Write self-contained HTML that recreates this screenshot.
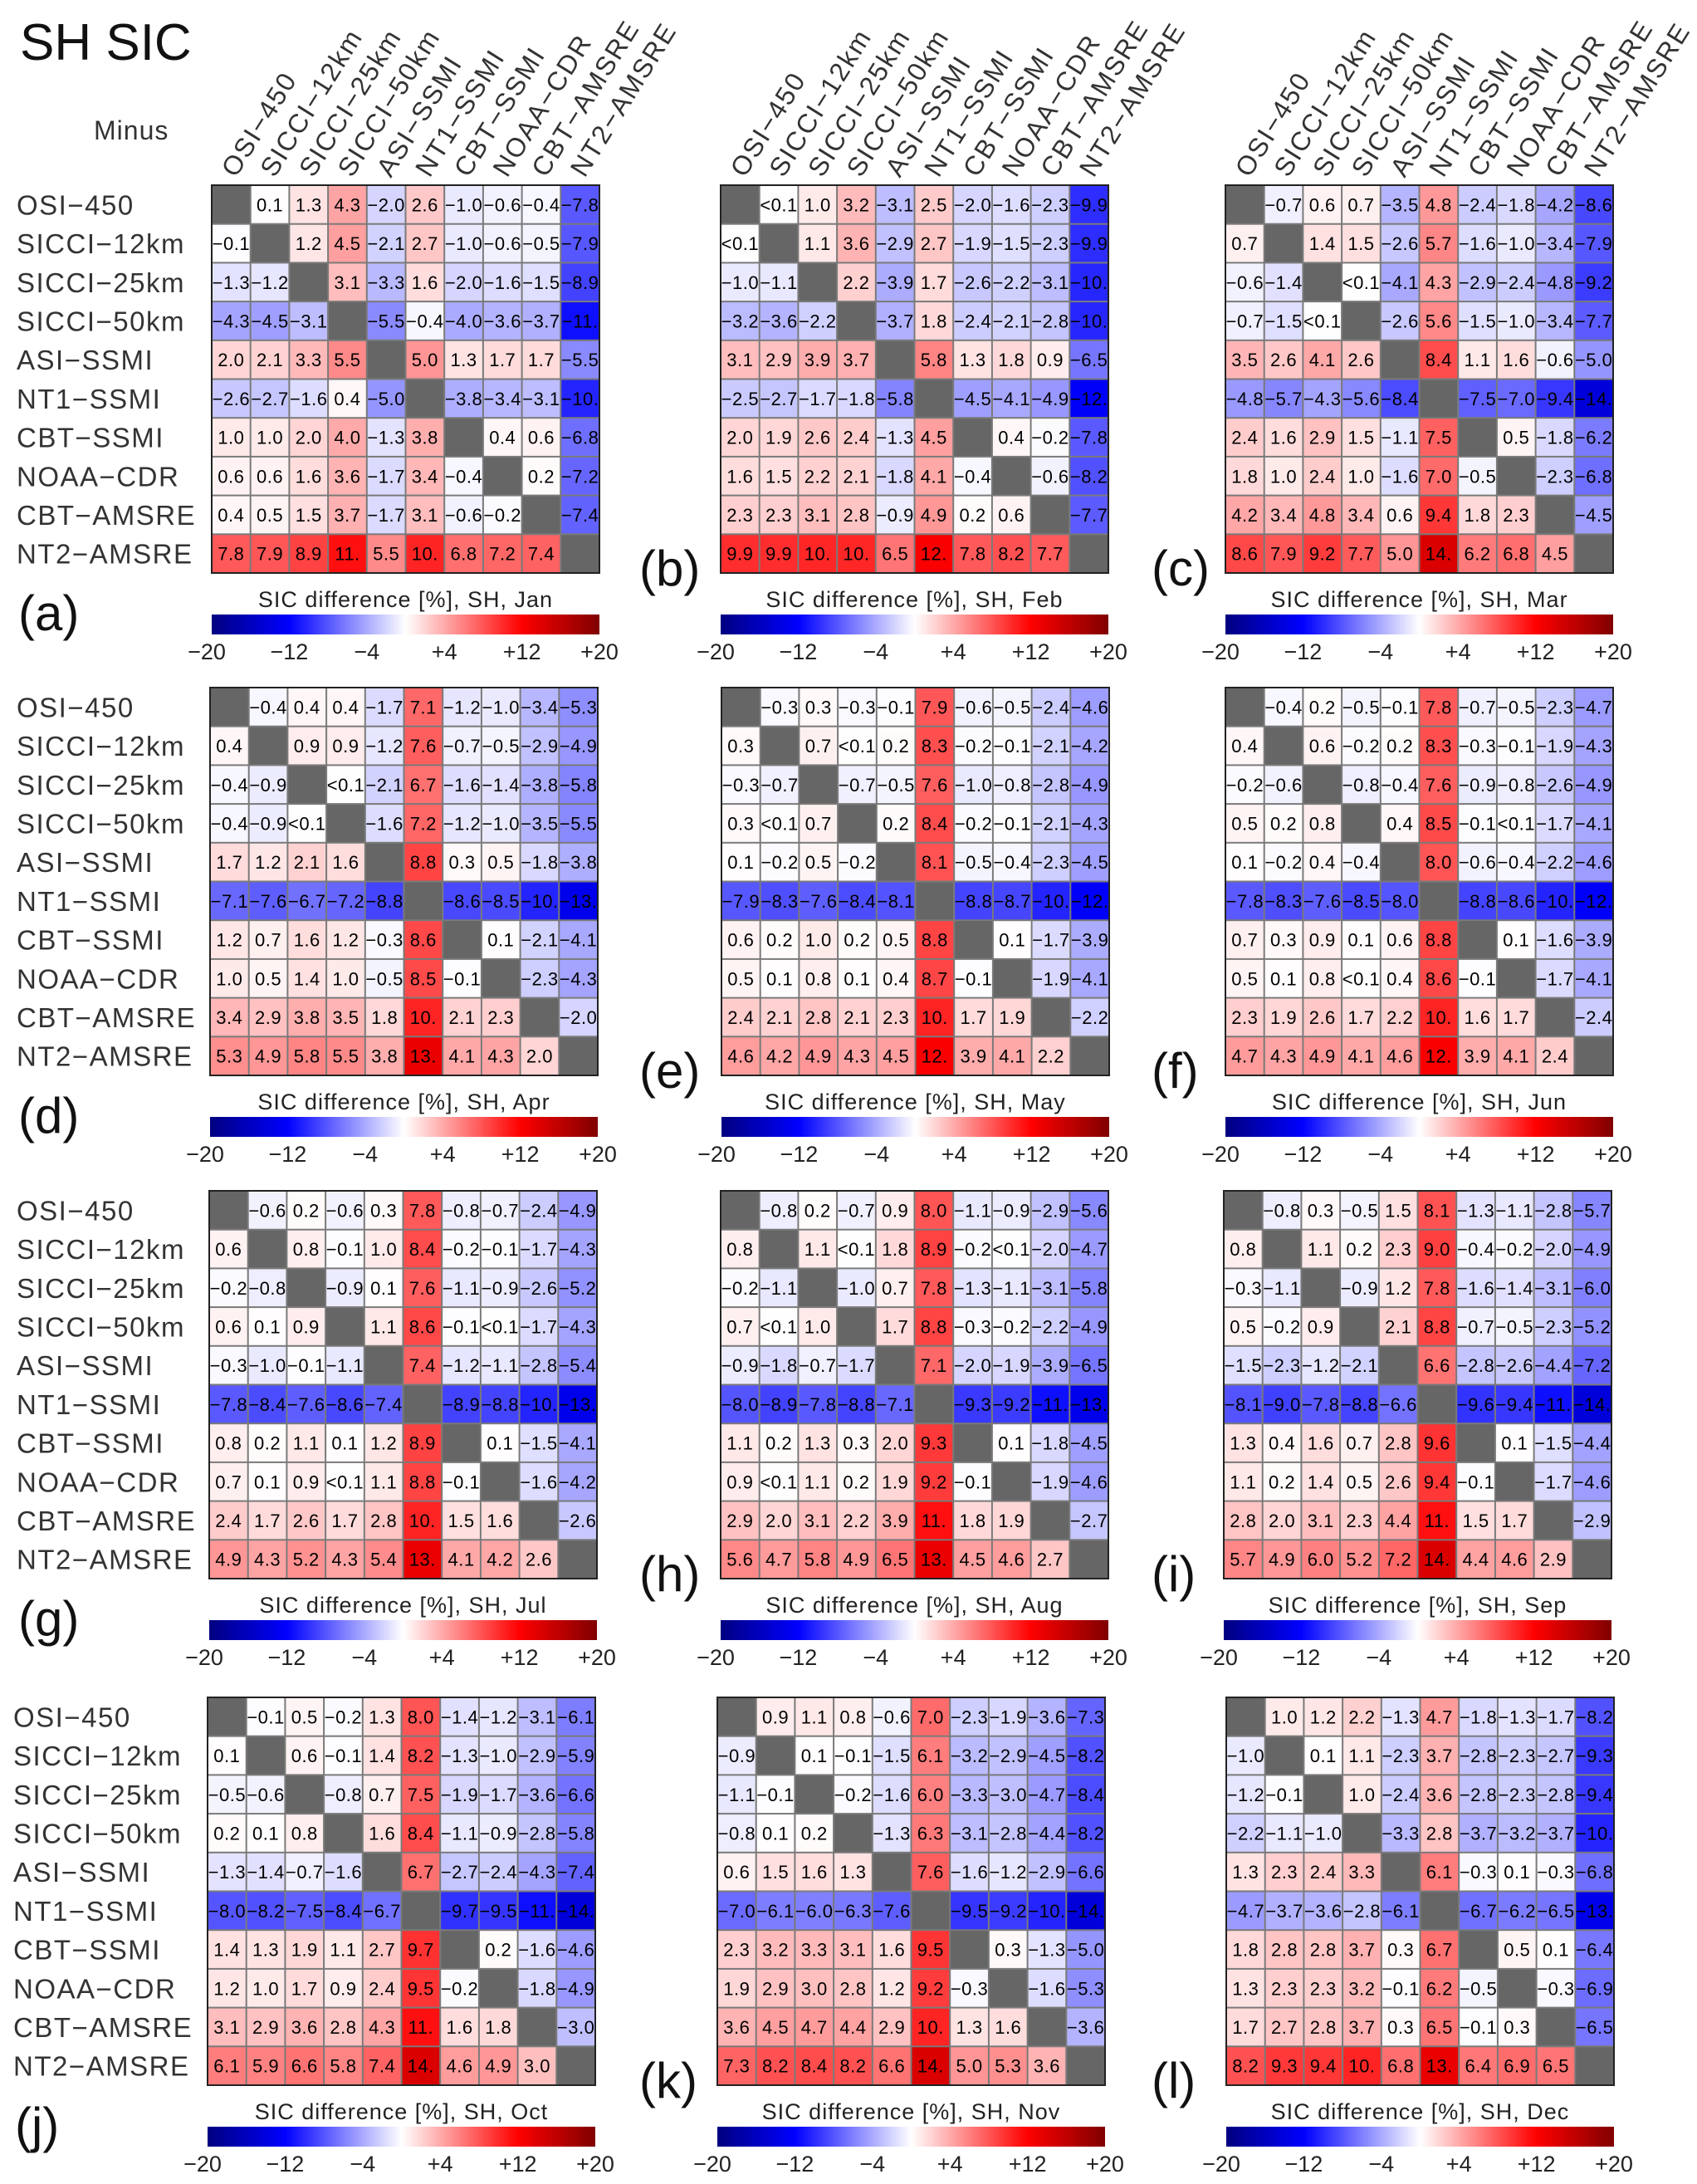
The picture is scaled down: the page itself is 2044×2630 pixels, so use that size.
<!DOCTYPE html>
<html><head><meta charset="utf-8"><style>
html,body{margin:0;padding:0;background:#fff;}
svg{display:block;}
text{font-family:"Liberation Sans",sans-serif;}
</style></head><body>
<svg id="fig" xmlns="http://www.w3.org/2000/svg" width="2044" height="2630" viewBox="0 0 2044 2630">
<rect x="0" y="0" width="2044" height="2630" fill="#fff"/>
<text x="24" y="72" font-size="62" fill="#111">SH SIC</text>
<text x="113" y="168" font-size="32" fill="#333" letter-spacing="1">Minus</text>
</svg>
<script>
const products = ["OSI−450","SICCI−12km","SICCI−25km","SICCI−50km","ASI−SSMI","NT1−SSMI","CBT−SSMI","NOAA−CDR","CBT−AMSRE","NT2−AMSRE"];
const months = ["Jan","Feb","Mar","Apr","May","Jun","Jul","Aug","Sep","Oct","Nov","Dec"];
const panelLetters = ["(a)","(b)","(c)","(d)","(e)","(f)","(g)","(h)","(i)","(j)","(k)","(l)"];
const cbTicks = [-20,-12,-4,4,12,20];
const cbTickLabels = ["−20","−12","−4","+4","+12","+20"];
const D = null;
const jan = [
[D,0.1,1.3,4.3,-2.0,2.6,-1.0,-0.6,-0.4,-7.8],
[-0.1,D,1.2,4.5,-2.1,2.7,-1.0,-0.6,-0.5,-7.9],
[-1.3,-1.2,D,3.1,-3.3,1.6,-2.0,-1.6,-1.5,-8.9],
[-4.3,-4.5,-3.1,D,-5.5,-0.4,-4.0,-3.6,-3.7,-11.3],
[2.0,2.1,3.3,5.5,D,5.0,1.3,1.7,1.7,-5.5],
[-2.6,-2.7,-1.6,0.4,-5.0,D,-3.8,-3.4,-3.1,-10.3],
[1.0,1.0,2.0,4.0,-1.3,3.8,D,0.4,0.6,-6.8],
[0.6,0.6,1.6,3.6,-1.7,3.4,-0.4,D,0.2,-7.2],
[0.4,0.5,1.5,3.7,-1.7,3.1,-0.6,-0.2,D,-7.4],
[7.8,7.9,8.9,11.3,5.5,10.3,6.8,7.2,7.4,D]];
const feb = [
[D,0.04,1.0,3.2,-3.1,2.5,-2.0,-1.6,-2.3,-9.9],
[0.04,D,1.1,3.6,-2.9,2.7,-1.9,-1.5,-2.3,-9.9],
[-1.0,-1.1,D,2.2,-3.9,1.7,-2.6,-2.2,-3.1,-10.2],
[-3.2,-3.6,-2.2,D,-3.7,1.8,-2.4,-2.1,-2.8,-10.2],
[3.1,2.9,3.9,3.7,D,5.8,1.3,1.8,0.9,-6.5],
[-2.5,-2.7,-1.7,-1.8,-5.8,D,-4.5,-4.1,-4.9,-12.3],
[2.0,1.9,2.6,2.4,-1.3,4.5,D,0.4,-0.2,-7.8],
[1.6,1.5,2.2,2.1,-1.8,4.1,-0.4,D,-0.6,-8.2],
[2.3,2.3,3.1,2.8,-0.9,4.9,0.2,0.6,D,-7.7],
[9.9,9.9,10.2,10.2,6.5,12.3,7.8,8.2,7.7,D]];
const mar = [
[D,-0.7,0.6,0.7,-3.5,4.8,-2.4,-1.8,-4.2,-8.6],
[0.7,D,1.4,1.5,-2.6,5.7,-1.6,-1.0,-3.4,-7.9],
[-0.6,-1.4,D,0.04,-4.1,4.3,-2.9,-2.4,-4.8,-9.2],
[-0.7,-1.5,0.04,D,-2.6,5.6,-1.5,-1.0,-3.4,-7.7],
[3.5,2.6,4.1,2.6,D,8.4,1.1,1.6,-0.6,-5.0],
[-4.8,-5.7,-4.3,-5.6,-8.4,D,-7.5,-7.0,-9.4,-14.3],
[2.4,1.6,2.9,1.5,-1.1,7.5,D,0.5,-1.8,-6.2],
[1.8,1.0,2.4,1.0,-1.6,7.0,-0.5,D,-2.3,-6.8],
[4.2,3.4,4.8,3.4,0.6,9.4,1.8,2.3,D,-4.5],
[8.6,7.9,9.2,7.7,5.0,14.3,6.2,6.8,4.5,D]];
const apr = [
[D,-0.4,0.4,0.4,-1.7,7.1,-1.2,-1.0,-3.4,-5.3],
[0.4,D,0.9,0.9,-1.2,7.6,-0.7,-0.5,-2.9,-4.9],
[-0.4,-0.9,D,0.04,-2.1,6.7,-1.6,-1.4,-3.8,-5.8],
[-0.4,-0.9,0.04,D,-1.6,7.2,-1.2,-1.0,-3.5,-5.5],
[1.7,1.2,2.1,1.6,D,8.8,0.3,0.5,-1.8,-3.8],
[-7.1,-7.6,-6.7,-7.2,-8.8,D,-8.6,-8.5,-10.3,-13.3],
[1.2,0.7,1.6,1.2,-0.3,8.6,D,0.1,-2.1,-4.1],
[1.0,0.5,1.4,1.0,-0.5,8.5,-0.1,D,-2.3,-4.3],
[3.4,2.9,3.8,3.5,1.8,10.3,2.1,2.3,D,-2.0],
[5.3,4.9,5.8,5.5,3.8,13.3,4.1,4.3,2.0,D]];
const may = [
[D,-0.3,0.3,-0.3,-0.1,7.9,-0.6,-0.5,-2.4,-4.6],
[0.3,D,0.7,0.04,0.2,8.3,-0.2,-0.1,-2.1,-4.2],
[-0.3,-0.7,D,-0.7,-0.5,7.6,-1.0,-0.8,-2.8,-4.9],
[0.3,0.04,0.7,D,0.2,8.4,-0.2,-0.1,-2.1,-4.3],
[0.1,-0.2,0.5,-0.2,D,8.1,-0.5,-0.4,-2.3,-4.5],
[-7.9,-8.3,-7.6,-8.4,-8.1,D,-8.8,-8.7,-10.3,-12.3],
[0.6,0.2,1.0,0.2,0.5,8.8,D,0.1,-1.7,-3.9],
[0.5,0.1,0.8,0.1,0.4,8.7,-0.1,D,-1.9,-4.1],
[2.4,2.1,2.8,2.1,2.3,10.3,1.7,1.9,D,-2.2],
[4.6,4.2,4.9,4.3,4.5,12.3,3.9,4.1,2.2,D]];
const jun = [
[D,-0.4,0.2,-0.5,-0.1,7.8,-0.7,-0.5,-2.3,-4.7],
[0.4,D,0.6,-0.2,0.2,8.3,-0.3,-0.1,-1.9,-4.3],
[-0.2,-0.6,D,-0.8,-0.4,7.6,-0.9,-0.8,-2.6,-4.9],
[0.5,0.2,0.8,D,0.4,8.5,-0.1,0.04,-1.7,-4.1],
[0.1,-0.2,0.4,-0.4,D,8.0,-0.6,-0.4,-2.2,-4.6],
[-7.8,-8.3,-7.6,-8.5,-8.0,D,-8.8,-8.6,-10.3,-12.3],
[0.7,0.3,0.9,0.1,0.6,8.8,D,0.1,-1.6,-3.9],
[0.5,0.1,0.8,0.04,0.4,8.6,-0.1,D,-1.7,-4.1],
[2.3,1.9,2.6,1.7,2.2,10.3,1.6,1.7,D,-2.4],
[4.7,4.3,4.9,4.1,4.6,12.3,3.9,4.1,2.4,D]];
const jul = [
[D,-0.6,0.2,-0.6,0.3,7.8,-0.8,-0.7,-2.4,-4.9],
[0.6,D,0.8,-0.1,1.0,8.4,-0.2,-0.1,-1.7,-4.3],
[-0.2,-0.8,D,-0.9,0.1,7.6,-1.1,-0.9,-2.6,-5.2],
[0.6,0.1,0.9,D,1.1,8.6,-0.1,0.04,-1.7,-4.3],
[-0.3,-1.0,-0.1,-1.1,D,7.4,-1.2,-1.1,-2.8,-5.4],
[-7.8,-8.4,-7.6,-8.6,-7.4,D,-8.9,-8.8,-10.3,-13.3],
[0.8,0.2,1.1,0.1,1.2,8.9,D,0.1,-1.5,-4.1],
[0.7,0.1,0.9,0.04,1.1,8.8,-0.1,D,-1.6,-4.2],
[2.4,1.7,2.6,1.7,2.8,10.3,1.5,1.6,D,-2.6],
[4.9,4.3,5.2,4.3,5.4,13.3,4.1,4.2,2.6,D]];
const aug = [
[D,-0.8,0.2,-0.7,0.9,8.0,-1.1,-0.9,-2.9,-5.6],
[0.8,D,1.1,0.04,1.8,8.9,-0.2,0.04,-2.0,-4.7],
[-0.2,-1.1,D,-1.0,0.7,7.8,-1.3,-1.1,-3.1,-5.8],
[0.7,0.04,1.0,D,1.7,8.8,-0.3,-0.2,-2.2,-4.9],
[-0.9,-1.8,-0.7,-1.7,D,7.1,-2.0,-1.9,-3.9,-6.5],
[-8.0,-8.9,-7.8,-8.8,-7.1,D,-9.3,-9.2,-11.3,-13.3],
[1.1,0.2,1.3,0.3,2.0,9.3,D,0.1,-1.8,-4.5],
[0.9,0.04,1.1,0.2,1.9,9.2,-0.1,D,-1.9,-4.6],
[2.9,2.0,3.1,2.2,3.9,11.3,1.8,1.9,D,-2.7],
[5.6,4.7,5.8,4.9,6.5,13.3,4.5,4.6,2.7,D]];
const sep = [
[D,-0.8,0.3,-0.5,1.5,8.1,-1.3,-1.1,-2.8,-5.7],
[0.8,D,1.1,0.2,2.3,9.0,-0.4,-0.2,-2.0,-4.9],
[-0.3,-1.1,D,-0.9,1.2,7.8,-1.6,-1.4,-3.1,-6.0],
[0.5,-0.2,0.9,D,2.1,8.8,-0.7,-0.5,-2.3,-5.2],
[-1.5,-2.3,-1.2,-2.1,D,6.6,-2.8,-2.6,-4.4,-7.2],
[-8.1,-9.0,-7.8,-8.8,-6.6,D,-9.6,-9.4,-11.3,-14.3],
[1.3,0.4,1.6,0.7,2.8,9.6,D,0.1,-1.5,-4.4],
[1.1,0.2,1.4,0.5,2.6,9.4,-0.1,D,-1.7,-4.6],
[2.8,2.0,3.1,2.3,4.4,11.3,1.5,1.7,D,-2.9],
[5.7,4.9,6.0,5.2,7.2,14.3,4.4,4.6,2.9,D]];
const oct = [
[D,-0.1,0.5,-0.2,1.3,8.0,-1.4,-1.2,-3.1,-6.1],
[0.1,D,0.6,-0.1,1.4,8.2,-1.3,-1.0,-2.9,-5.9],
[-0.5,-0.6,D,-0.8,0.7,7.5,-1.9,-1.7,-3.6,-6.6],
[0.2,0.1,0.8,D,1.6,8.4,-1.1,-0.9,-2.8,-5.8],
[-1.3,-1.4,-0.7,-1.6,D,6.7,-2.7,-2.4,-4.3,-7.4],
[-8.0,-8.2,-7.5,-8.4,-6.7,D,-9.7,-9.5,-11.3,-14.3],
[1.4,1.3,1.9,1.1,2.7,9.7,D,0.2,-1.6,-4.6],
[1.2,1.0,1.7,0.9,2.4,9.5,-0.2,D,-1.8,-4.9],
[3.1,2.9,3.6,2.8,4.3,11.3,1.6,1.8,D,-3.0],
[6.1,5.9,6.6,5.8,7.4,14.3,4.6,4.9,3.0,D]];
const nov = [
[D,0.9,1.1,0.8,-0.6,7.0,-2.3,-1.9,-3.6,-7.3],
[-0.9,D,0.1,-0.1,-1.5,6.1,-3.2,-2.9,-4.5,-8.2],
[-1.1,-0.1,D,-0.2,-1.6,6.0,-3.3,-3.0,-4.7,-8.4],
[-0.8,0.1,0.2,D,-1.3,6.3,-3.1,-2.8,-4.4,-8.2],
[0.6,1.5,1.6,1.3,D,7.6,-1.6,-1.2,-2.9,-6.6],
[-7.0,-6.1,-6.0,-6.3,-7.6,D,-9.5,-9.2,-10.3,-14.3],
[2.3,3.2,3.3,3.1,1.6,9.5,D,0.3,-1.3,-5.0],
[1.9,2.9,3.0,2.8,1.2,9.2,-0.3,D,-1.6,-5.3],
[3.6,4.5,4.7,4.4,2.9,10.3,1.3,1.6,D,-3.6],
[7.3,8.2,8.4,8.2,6.6,14.3,5.0,5.3,3.6,D]];
const dec = [
[D,1.0,1.2,2.2,-1.3,4.7,-1.8,-1.3,-1.7,-8.2],
[-1.0,D,0.1,1.1,-2.3,3.7,-2.8,-2.3,-2.7,-9.3],
[-1.2,-0.1,D,1.0,-2.4,3.6,-2.8,-2.3,-2.8,-9.4],
[-2.2,-1.1,-1.0,D,-3.3,2.8,-3.7,-3.2,-3.7,-10.3],
[1.3,2.3,2.4,3.3,D,6.1,-0.3,0.1,-0.3,-6.8],
[-4.7,-3.7,-3.6,-2.8,-6.1,D,-6.7,-6.2,-6.5,-13.3],
[1.8,2.8,2.8,3.7,0.3,6.7,D,0.5,0.1,-6.4],
[1.3,2.3,2.3,3.2,-0.1,6.2,-0.5,D,-0.3,-6.9],
[1.7,2.7,2.8,3.7,0.3,6.5,-0.1,0.3,D,-6.5],
[8.2,9.3,9.4,10.3,6.8,13.3,6.4,6.9,6.5,D]];
const monthData = [jan,feb,mar,apr,may,jun,jul,aug,sep,oct,nov,dec];

const NS = "http://www.w3.org/2000/svg";
const svg = document.getElementById("fig");
const GRID = 467, N = 10, CELL = GRID / N;
const gridLefts = [255,868,1476,253,869,1476,252,868,1474,250,864,1477];
const gridTops = [223,828,1434,2044];
const letterX = [22,770,1387];

function mk(tag, attrs, parent) {
  const e = document.createElementNS(NS, tag);
  for (const k in attrs) e.setAttribute(k, attrs[k]);
  (parent || svg).appendChild(e);
  return e;
}
function color(v) {
  const a = Math.abs(v);
  let r, g, b;
  if (a <= 12) { const t = a / 12; const c = Math.round(255 * (1 - t)); r = c; g = c; b = 255; }
  else { const t = Math.min(1, (a - 12) / 8); r = 0; g = 0; b = Math.round(255 - t * 127); }
  return v >= 0 ? `rgb(${b},${g},${r})` : `rgb(${r},${g},${b})`;
}
function fmt(v) {
  if (Math.abs(v) < 0.1) return "<0.1";
  if (Math.abs(v) >= 10) return (v < 0 ? "−" : "") + Math.trunc(Math.abs(v)) + ".";
  return (v < 0 ? "−" : "") + Math.abs(v).toFixed(1);
}
function xScale(left, i) { return left + i * CELL; }
function yScale(top, j) { return top + j * CELL; }
function cbScale(left, v) { return left + (v + 20) / 40 * GRID; }

const defs = mk("defs", {});
const grad = mk("linearGradient", {id: "cbgrad", x1: "0", x2: "1", y1: "0", y2: "0"}, defs);
for (let k = 0; k <= 80; k++) {
  const v = -20 + k * 0.5;
  mk("stop", {offset: (k / 80).toFixed(4), "stop-color": color(v)}, grad);
}

for (let r = 0; r < 4; r++) {
  for (let j = 0; j < N; j++) {
    const t = mk("text", {x: r === 3 ? 16 : 20, y: yScale(gridTops[r], j) + CELL / 2 + 12, "font-size": 33, fill: "#333", "letter-spacing": 1.5});
    
    
    t.textContent = products[j];
  }
}

for (let p = 0; p < 12; p++) {
  const row = Math.floor(p / 3), col = p % 3;
  const left = gridLefts[p], top = gridTops[row];
  const data = monthData[p];
  const g = mk("g", {});
  
  
  mk("rect", {x: left, y: top, width: GRID, height: GRID, fill: "#7a7a7a"}, g);
  for (let j = 0; j < N; j++) {
    for (let i = 0; i < N; i++) {
      const v = data[j][i];
      const x = xScale(left, i), y = yScale(top, j);
      const c = mk("rect", {x: x + 1, y: y + 1, width: CELL - 2, height: CELL - 2, fill: v === null ? "#666" : color(v)}, g);
      
      
      if (v !== null) {
        const t = mk("text", {x: x + CELL / 2, y: y + CELL / 2 + 8, "font-size": 22, "letter-spacing": 0.5, "text-anchor": "middle", fill: "#000"}, g);
        
        
        t.textContent = fmt(v);
      }
    }
  }
  mk("rect", {x: left, y: top, width: GRID, height: GRID, fill: "none", stroke: "#222", "stroke-width": 2}, g);

  if (row === 0) {
    for (let i = 0; i < N; i++) {
      const hx = xScale(left, i) + CELL * 0.62, hy = top - 8;
      const t = mk("text", {x: hx, y: hy, "font-size": 32, fill: "#333", "letter-spacing": 2, transform: `rotate(-58 ${hx} ${hy})`});
      
      
      t.textContent = products[i];
    }
  }

  const bottom = top + GRID;
  const ct = mk("text", {x: left + GRID / 2, y: bottom + 41, "font-size": 27, "text-anchor": "middle", fill: "#222", "letter-spacing": 1});
  
  
  ct.textContent = "SIC difference [%], SH, " + months[p];
  const cb = mk("rect", {x: left, y: bottom + 50, width: GRID, height: 24, fill: "url(#cbgrad)"});
  
  
  for (let k = 0; k < cbTicks.length; k++) {
    const tx = cbScale(left, cbTicks[k]);
    const tl = mk("text", {x: tx - (k === 0 ? 6 : 0), y: bottom + 104, "font-size": 27, "text-anchor": "middle", fill: "#222"});
    
    
    tl.textContent = cbTickLabels[k];
  }

  const ly = col === 0 ? bottom + 69 : bottom + 15;
  const pl = mk("text", {x: letterX[col] + (row === 3 && col === 0 ? -4 : 0), y: ly, "font-size": 60, fill: "#111"});
  
  
  pl.textContent = panelLetters[p];
}
</script>
</body></html>
